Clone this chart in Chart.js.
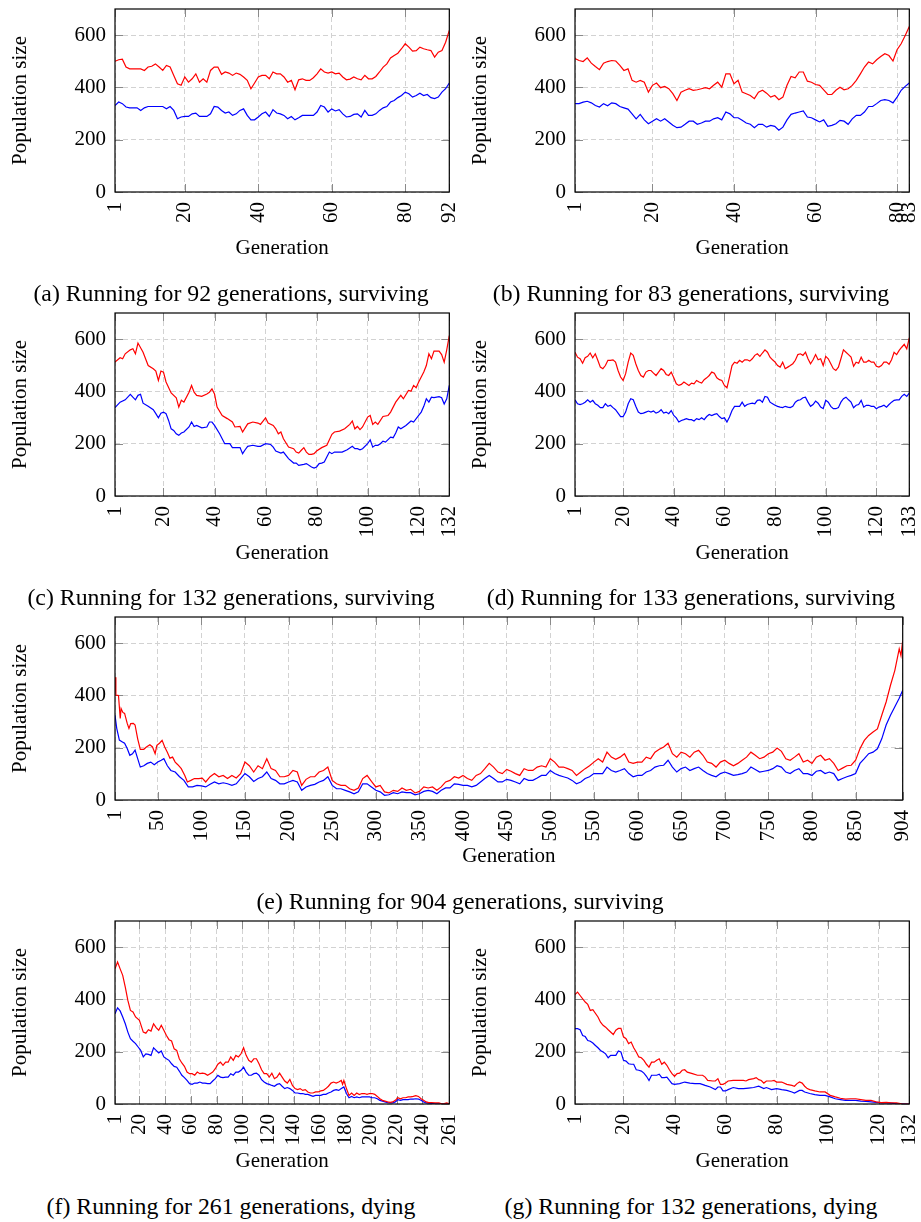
<!DOCTYPE html>
<html>
<head>
<meta charset="utf-8">
<script src="https://cdn.jsdelivr.net/npm/chart.js@4.4.1/dist/chart.umd.min.js"></script>
<style>
  body { margin: 0; background: #fff; font-family: "Liberation Serif", "Times New Roman", serif; }
  #page { position: relative; width: 921px; height: 1222px; }
  canvas { position: absolute; }
  .cap { position: absolute; font-size: 23.8px; line-height: 24px; color: #000; white-space: nowrap; transform: translateX(-50%); }
</style>
</head>
<body>
<div id="page"></div>
<script>
// ---- data ----

// (a) 92 generations, surviving (one value per generation)
const redA = [500,506,508,478,471,471,471,471,465,478,481,490,478,465,484,478,446,414,408,440,
  420,433,452,420,433,420,465,478,478,450,459,455,446,455,450,440,427,395,417,440,
  446,446,433,459,452,452,440,420,427,391,429,433,427,427,437,452,471,459,455,459,
  452,455,440,429,432,440,433,429,446,433,433,442,459,478,490,513,522,531,548,567,
  554,539,541,554,548,544,541,516,535,541,573,618];
const blueA = [331,344,338,325,322,322,322,312,322,327,327,327,327,327,318,327,312,280,287,289,
  289,299,302,289,289,289,299,327,325,312,302,306,293,299,312,318,293,276,276,287,
  299,306,289,315,302,299,293,280,289,276,284,293,293,293,293,306,331,325,306,318,
  310,315,299,287,289,297,299,287,312,293,293,299,312,322,327,344,350,361,369,382,
  376,363,369,378,369,373,361,357,363,382,395,417];
const ticksA = [1, 20, 40, 60, 80, 92];

// (b) 83 generations, surviving
const redB = [510,503,499,513,493,480,468,493,499,503,501,484,465,471,427,420,427,420,382,408,
  417,399,404,395,376,350,382,389,395,389,391,395,399,395,408,420,401,452,452,414,
  427,382,376,369,357,382,389,378,363,369,353,363,408,442,437,459,459,424,420,411,
  408,391,373,373,389,401,391,395,408,427,452,478,497,490,506,518,529,522,501,544,
  567,599,633];
const blueB = [338,338,344,347,341,331,325,338,330,341,338,327,322,317,299,280,297,276,261,271,
  280,271,280,268,255,246,248,259,271,271,259,264,271,271,280,284,276,306,299,284,
  284,274,264,259,246,259,259,248,255,251,236,248,276,297,302,306,310,287,284,276,
  268,276,251,255,261,274,271,259,280,293,293,306,327,327,338,350,353,350,341,363,
  389,404,417];
const ticksB = [1, 20, 40, 60, 80, 83];

// (c) 132 generations, surviving
const redCGen = [1,3,4,5,7,8,9,10,12,14,16,17,18,19,20,21,23,25,26,27,28,30,31,32,33,35,37,38,39,40,
  41,43,45,47,48,50,51,53,55,57,58,60,61,63,64,65,66,67,69,71,72,73,74,75,76,77,78,79,80,82,
  84,86,87,89,91,93,94,95,96,97,98,100,101,102,103,104,106,108,109,111,113,114,116,117,118,119,120,122,123,124,
  125,126,128,129,130,131,132];
const redC = [512,529,525,544,559,563,544,585,550,499,487,478,442,478,474,436,394,376,340,366,
  359,397,423,397,385,381,390,397,410,390,340,308,296,283,264,266,245,276,283,279,
  274,299,279,270,257,238,245,219,187,181,168,164,175,185,168,159,159,162,172,185,
  194,236,245,248,257,274,287,257,266,254,264,302,308,274,283,274,304,308,321,359,
  385,372,404,401,423,414,436,474,499,544,525,554,554,541,512,559,614];
const blueCGen = [1,3,5,7,8,9,10,11,12,14,16,17,18,19,20,21,22,23,24,25,26,27,28,30,31,32,33,35,37,38,
  39,40,42,43,44,46,47,50,51,52,53,55,57,58,60,62,63,64,66,67,69,71,72,73,75,76,78,79,80,81,
  82,83,84,85,86,87,90,92,94,95,96,97,98,100,101,102,103,104,105,106,107,109,110,111,112,113,115,117,118,120,
  121,122,123,124,125,126,128,129,130,131,132];
const blueC = [338,359,368,389,378,368,385,389,355,343,330,315,299,317,321,315,289,257,251,238,
  232,241,245,264,283,266,270,261,264,283,283,270,238,219,200,200,185,185,162,177,
  190,194,190,190,200,197,187,172,164,168,143,126,126,117,121,124,111,107,111,124,
  126,130,149,168,162,168,168,177,190,181,181,177,181,200,215,187,194,194,200,210,
  206,225,223,241,264,257,270,287,283,308,321,343,372,359,378,376,380,376,352,372,423];
const ticksC = [1, 20, 40, 60, 80, 100, 120, 132];

// (d) 133 generations, surviving (one value per generation)
const redD = [550,531,525,508,529,534,547,529,544,519,493,487,499,519,519,521,512,480,455,442,
  468,512,547,538,506,480,461,455,474,480,480,470,461,474,487,480,465,461,474,452,
  429,423,427,436,429,423,432,429,442,436,432,445,452,461,474,470,452,445,442,423,
  414,455,499,512,508,519,512,521,521,516,525,538,544,534,547,559,550,531,521,512,
  499,493,512,487,493,499,506,519,541,544,538,550,525,506,521,541,521,525,499,534,
  525,506,487,480,493,525,559,550,541,531,496,512,508,531,512,512,519,512,512,496,
  493,499,512,512,504,521,550,541,557,569,580,563,605];
const blueD = [368,353,350,353,359,368,359,366,353,347,338,338,353,343,347,338,330,317,304,304,
  321,353,372,368,343,321,315,317,321,325,321,325,317,321,330,317,321,315,327,308,
  299,283,289,292,296,292,292,287,296,292,299,292,304,312,308,312,315,304,296,299,
  283,302,327,343,343,343,359,343,350,353,355,353,366,368,359,381,378,359,353,347,
  343,340,338,343,340,338,343,359,366,368,376,378,359,343,350,363,355,340,334,366,
  359,343,334,334,338,359,372,378,368,359,338,347,350,366,340,347,347,343,343,334,
  340,343,347,340,350,359,366,368,368,381,389,381,394];
const ticksD = [1, 20, 40, 60, 80, 100, 120, 133];

// (e) 904 generations, surviving (sampled along the run)
const redEGen = [1,2,5,7,8,10,12,15,17,19,22,24,27,30,34,37,41,44,47,49,52,55,58,61,64,67,70,73,77,81,84,88,92,97,101,105,
  110,115,120,125,130,135,140,145,150,155,160,165,170,175,180,185,190,195,200,205,210,215,220,225,230,235,240,245,
  250,255,260,265,270,275,280,285,290,295,300,305,310,315,320,325,330,335,340,345,350,355,360,365,370,375,380,385,390,395,400,
  405,410,415,420,425,430,435,440,445,450,455,460,465,470,475,480,485,490,495,500,505,510,515,520,525,530,535,540,545,550,
  555,560,565,570,575,580,585,590,595,600,605,610,615,620,625,630,635,640,645,650,655,660,665,670,675,680,685,690,695,700,
  705,710,715,720,725,730,735,740,745,750,755,760,765,770,775,780,785,790,795,800,805,810,815,820,825,830,835,840,845,850,
  855,860,865,870,875,880,885,890,895,900,902,904];
const redE = [470,401,400,312,350,335,331,293,274,292,293,287,234,194,194,203,211,203,177,209,217,228,203,183,160,164,145,135,120,94,69,75,82,82,84,69,
  89,101,89,94,82,94,84,101,145,131,107,131,120,158,120,113,89,89,94,113,107,56,79,89,89,107,113,126,
  75,62,56,56,43,37,46,82,94,71,50,56,31,27,37,33,46,37,41,27,33,50,46,50,37,50,69,75,89,84,94,
  82,75,94,101,120,140,126,107,101,117,110,101,94,120,113,113,126,131,126,158,145,126,126,120,113,94,107,120,131,145,
  158,145,183,164,156,164,177,145,140,145,145,164,158,183,194,203,217,177,164,183,177,164,183,190,171,145,140,126,145,152,
  140,131,140,152,164,183,171,158,164,177,183,199,186,158,152,164,177,145,152,140,164,171,152,158,140,113,122,131,133,152,
  196,228,247,260,272,324,375,439,496,578,552,610];
const blueEGen = [1,3,6,9,12,15,18,21,24,27,30,34,38,42,46,50,54,57,61,65,70,75,80,85,90,95,100,105,
  110,115,120,125,130,135,140,145,150,155,160,165,170,175,180,185,190,195,200,205,210,215,220,225,230,235,240,245,
  250,255,260,265,270,275,280,285,290,295,300,305,310,315,320,325,330,335,340,345,350,355,360,365,370,375,380,385,390,395,400,
  405,410,415,420,425,430,435,440,445,450,455,460,465,470,475,480,485,490,495,500,505,510,515,520,525,530,535,540,545,550,
  555,560,565,570,575,580,585,590,595,600,605,610,615,620,625,630,635,640,645,650,655,660,665,670,675,680,685,690,695,700,
  705,710,715,720,725,730,735,740,745,750,755,760,765,770,775,780,785,790,795,800,805,810,815,820,825,830,835,840,845,850,
  855,860,865,870,875,880,885,890,895,900,904];
const blueE = [324,274,229,223,217,197,171,177,191,158,126,131,140,145,135,145,152,158,131,113,107,89,75,50,50,56,54,50,
  60,69,62,66,62,56,62,82,101,89,71,82,89,107,82,75,62,62,69,75,69,37,50,56,60,69,75,89,
  56,43,43,37,31,24,31,62,62,50,37,31,18,20,28,24,31,28,28,20,24,33,37,33,24,37,46,46,62,60,56,
  56,50,56,69,82,94,82,69,69,79,75,69,62,82,75,75,84,94,94,113,101,94,89,84,75,62,69,82,89,101,
  101,101,126,113,107,113,120,101,89,94,94,107,113,126,131,133,152,126,107,120,126,113,120,126,113,101,94,89,101,107,
  101,94,97,101,107,126,117,107,110,113,120,131,126,107,101,113,120,101,101,94,110,113,101,107,101,75,82,89,94,101,
  140,158,177,183,196,234,287,324,357,389,420];
const ticksE = [1, 50, 100, 150, 200, 250, 300, 350, 400, 450, 500, 550, 600, 650, 700, 750, 800, 850, 904];

// (f) 261 generations, dying
const redFGen = [1,3,5,7,9,11,13,15,17,20,23,25,27,29,31,33,35,37,39,41,43,45,47,49,51,53,55,57,59,61,
  63,65,67,69,71,73,75,77,79,81,83,85,87,89,91,93,95,97,99,101,103,105,107,109,111,113,115,117,119,121,
  123,125,127,129,131,133,135,137,139,141,143,145,147,149,151,153,155,157,159,161,163,165,167,169,171,173,175,177,178,179,
  181,183,185,187,189,191,193,195,197,199,201,203,205,207,209,211,213,215,217,219,221,223,225,227,229,231,233,235,237,239,
  241,243,245,247,250,253,255,257,259,261];
const redF = [517,543,517,492,447,396,358,352,333,320,275,271,284,279,307,292,282,301,282,262,
  246,241,211,205,173,157,144,122,116,116,110,122,116,118,116,110,116,122,135,152,
  160,148,160,160,180,167,186,180,192,215,186,167,160,173,173,154,131,116,116,103,
  118,97,103,118,103,88,80,94,71,59,55,59,52,55,46,42,42,46,46,50,
  52,59,68,80,84,80,84,90,75,90,59,33,42,33,42,36,40,40,37,40,
  40,37,29,20,14,11,8,6,8,14,24,20,24,24,27,27,29,32,29,20,
  14,8,5,5,4,4,1,2,4,1];
const blueFGen = [1,3,5,7,9,11,13,15,17,19,21,23,25,27,29,31,33,35,37,39,41,43,45,47,49,51,53,55,57,59,
  61,63,65,67,69,71,73,75,77,79,81,83,85,87,89,91,93,95,97,99,101,103,105,107,109,111,113,115,117,119,
  121,123,125,127,129,131,133,135,137,139,141,143,145,147,149,151,153,155,157,159,161,163,165,167,169,171,173,175,177,179,
  181,183,185,187,189,191,193,195,197,199,201,203,205,207,209,211,213,215,217,219,221,223,225,227,229,231,233,235,237,239,
  241,243,245,250,255,261];
const blueF = [345,368,356,333,307,275,250,240,231,218,205,180,192,190,186,215,205,195,203,180,
  173,167,154,144,141,126,110,101,90,78,75,80,80,84,80,80,78,78,88,97,
  110,103,101,103,103,116,110,122,122,129,141,122,110,110,116,118,110,93,84,78,
  75,71,68,75,78,68,59,63,59,52,42,42,40,40,37,37,33,29,33,33,
  33,37,37,42,46,52,55,52,59,65,40,24,29,24,27,24,27,27,27,27,
  24,24,20,14,11,8,5,4,4,8,17,14,17,17,17,19,19,20,19,14,
  8,4,3,1,1,1];
const ticksF = [1, 20, 40, 60, 80, 100, 120, 140, 160, 180, 200, 220, 240, 261];

// (g) 132 generations, dying
const redGGen = [1,2,3,5,6,7,8,10,11,12,13,14,16,17,18,19,20,21,22,23,24,25,26,27,28,29,30,31,32,33,
  34,35,36,37,38,39,40,41,42,43,44,45,47,49,51,52,53,55,56,57,58,59,60,61,63,65,67,68,69,71,
  72,73,74,75,76,78,79,80,82,84,86,87,88,89,90,91,92,93,95,97,99,101,103,105,107,109,111,113,115,117,
  119,121,123,125,127,129,131,132];
const redG = [419,428,415,390,381,358,361,333,313,301,294,284,266,282,289,289,257,250,231,237,
  215,199,180,177,167,152,141,160,160,167,173,152,160,148,131,116,106,116,118,129,
  131,122,116,110,110,103,90,88,88,97,75,75,80,88,90,90,90,88,93,97,
  101,93,90,80,88,88,90,84,84,75,71,68,78,84,80,68,59,55,50,46,
  46,33,27,22,19,20,20,17,14,14,8,5,6,4,4,1,0,0];
const blueGGen = [1,2,3,4,5,6,7,8,9,10,11,12,13,14,15,16,17,18,19,20,21,22,23,24,25,26,27,28,29,30,
  31,32,33,34,35,36,37,38,39,40,42,44,46,48,50,52,54,56,57,58,59,60,61,63,65,67,69,71,73,75,
  76,78,80,82,84,86,87,89,90,91,93,95,97,99,101,103,105,107,109,111,113,115,117,119,121,123,125,127,129,132];
const blueG = [288,288,284,262,258,243,240,233,224,215,205,199,192,177,186,186,186,203,199,167,
  164,154,152,152,131,129,126,118,106,90,110,110,110,114,101,101,103,90,78,75,
  78,84,80,78,78,71,65,55,65,65,50,50,55,63,59,59,61,63,68,59,
  63,55,59,55,52,46,42,52,52,46,40,36,33,33,27,20,17,14,14,14,
  11,10,8,6,4,4,3,1,1,0];
const ticksG = [1, 20, 40, 60, 80, 100, 120, 132];

const yTicks = [0, 200, 400, 600];

// ---- helpers ----
function seq(n) { return Array.from({ length: n }, (_, i) => i + 1); }
function pts(gens, vals) { return vals.map((v, i) => ({ x: gens[i], y: v })); }

const AXIS_FONT = { family: "'Liberation Serif', 'Times New Roman', serif", size: 21 };
const PLOT_H = 183;
const Y_AXIS_W = 115;

// frame and inner tick marks, pgfplots style
const framePlugin = {
  id: "frame",
  beforeDatasetsDraw(chart) {
    const { ctx, chartArea: a, scales } = chart;
    ctx.save();
    ctx.strokeStyle = "#8a8a8a";
    ctx.lineWidth = 1;
    ctx.beginPath();
    scales.x.ticks.forEach((t) => {
      const px = Math.round(scales.x.getPixelForValue(t.value)) + 0.5;
      ctx.moveTo(px, a.bottom); ctx.lineTo(px, a.bottom - 8);
      ctx.moveTo(px, a.top); ctx.lineTo(px, a.top + 8);
    });
    scales.y.ticks.forEach((t) => {
      const py = Math.round(scales.y.getPixelForValue(t.value)) + 0.5;
      ctx.moveTo(a.left, py); ctx.lineTo(a.left + 8, py);
      ctx.moveTo(a.right, py); ctx.lineTo(a.right - 8, py);
    });
    ctx.stroke();
    ctx.restore();
  },
  afterDatasetsDraw(chart) {
    const { ctx, chartArea: a } = chart;
    ctx.save();
    ctx.strokeStyle = "#000";
    ctx.lineWidth = 1.2;
    ctx.strokeRect(a.left, a.top, a.right - a.left, a.bottom - a.top);
    ctx.restore();
  },
};

// box: column left, column width, plot top, plot right, centre of "Generation"
function makeChart(box, xMax, xTicks, red, blue) {
  const top = box.plotTop - 8;
  const height = Math.round(box.titleY + 15.6 - top);
  const canvas = document.createElement("canvas");
  canvas.width = box.colW;
  canvas.height = height;
  canvas.style.left = box.colX + "px";
  canvas.style.top = top + "px";
  document.getElementById("page").appendChild(canvas);

  new Chart(canvas.getContext("2d"), {
    type: "line",
    data: {
      datasets: [
        { data: red, borderColor: "#ff0000", borderWidth: 1.2, pointRadius: 0, tension: 0 },
        { data: blue, borderColor: "#0000ff", borderWidth: 1.2, pointRadius: 0, tension: 0 },
      ],
    },
    options: {
      responsive: false,
      animation: false,
      layout: { padding: { top: 8, left: 0, bottom: 0, right: box.colX + box.colW - box.plotRight } },
      plugins: { legend: { display: false }, tooltip: { enabled: false } },
      scales: {
        x: {
          type: "linear",
          min: 1,
          max: xMax,
          afterBuildTicks: (s) => { s.ticks = xTicks.map((v) => ({ value: v })); },
          afterFit: (s) => {
            s.height = height - 8 - PLOT_H;
            s.paddingLeft = 0; s.paddingRight = 0;
          },
          grid: { color: "#d2d2d2", lineWidth: 1, drawTicks: false },
          border: { display: false, dash: [5, 3] },
          ticks: {
            autoSkip: false, minRotation: 90, maxRotation: 90, padding: 10,
            color: "#000", font: AXIS_FONT, callback: (v) => String(v),
          },
          title: { display: true, text: "Generation", color: "#000", font: AXIS_FONT, padding: { top: 0, bottom: 3 } },
        },
        y: {
          min: 0,
          max: 700,
          afterBuildTicks: (s) => { s.ticks = yTicks.map((v) => ({ value: v })); },
          afterFit: (s) => {
            s.width = Y_AXIS_W;
            s.paddingTop = 0; s.paddingBottom = 0;
          },
          grid: { color: "#d2d2d2", lineWidth: 1, drawTicks: false },
          border: { display: false, dash: [5, 3] },
          ticks: { padding: 9, color: "#000", font: AXIS_FONT, callback: (v) => String(v) },
          title: { display: true, text: "Population size", color: "#000", font: AXIS_FONT, padding: { top: 8, bottom: 0 } },
        },
      },
    },
    plugins: [framePlugin],
  });
}

function caption(text, cx, cy) {
  const d = document.createElement("div");
  d.className = "cap";
  d.textContent = text;
  d.style.left = cx + "px";
  d.style.top = (cy - 12) + "px";
  document.getElementById("page").appendChild(d);
}

// ---- layout ----
const L = { colX: 0, colW: 460, plotRight: 449.3 };
const R = { colX: 460, colW: 461, plotRight: 909.3 };

makeChart({ ...L, plotTop: 8.5, titleY: 248 }, 92, ticksA, pts(seq(92), redA), pts(seq(92), blueA));
makeChart({ ...R, plotTop: 8.5, titleY: 248 }, 83, ticksB, pts(seq(83), redB), pts(seq(83), blueB));
makeChart({ ...L, plotTop: 312.7, titleY: 553 }, 132, ticksC, pts(redCGen, redC), pts(blueCGen, blueC));
makeChart({ ...R, plotTop: 312.7, titleY: 553 }, 133, ticksD, pts(seq(133), redD), pts(seq(133), blueD));
makeChart({ colX: 0, colW: 921, plotRight: 902.7, plotTop: 617.3, titleY: 857 }, 904, ticksE, pts(redEGen, redE), pts(blueEGen, blueE));
makeChart({ ...L, plotTop: 921, titleY: 1161.7 }, 261, ticksF, pts(redFGen, redF), pts(blueFGen, blueF));
makeChart({ ...R, plotTop: 921, titleY: 1161.7 }, 132, ticksG, pts(redGGen, redG), pts(blueGGen, blueG));

caption("(a) Running for 92 generations, surviving", 231, 293);
caption("(b) Running for 83 generations, surviving", 691, 293);
caption("(c) Running for 132 generations, surviving", 231, 597);
caption("(d) Running for 133 generations, surviving", 691, 597);
caption("(e) Running for 904 generations, surviving", 460, 901);
caption("(f) Running for 261 generations, dying", 231, 1206);
caption("(g) Running for 132 generations, dying", 691, 1206);
</script>
</body>
</html>
